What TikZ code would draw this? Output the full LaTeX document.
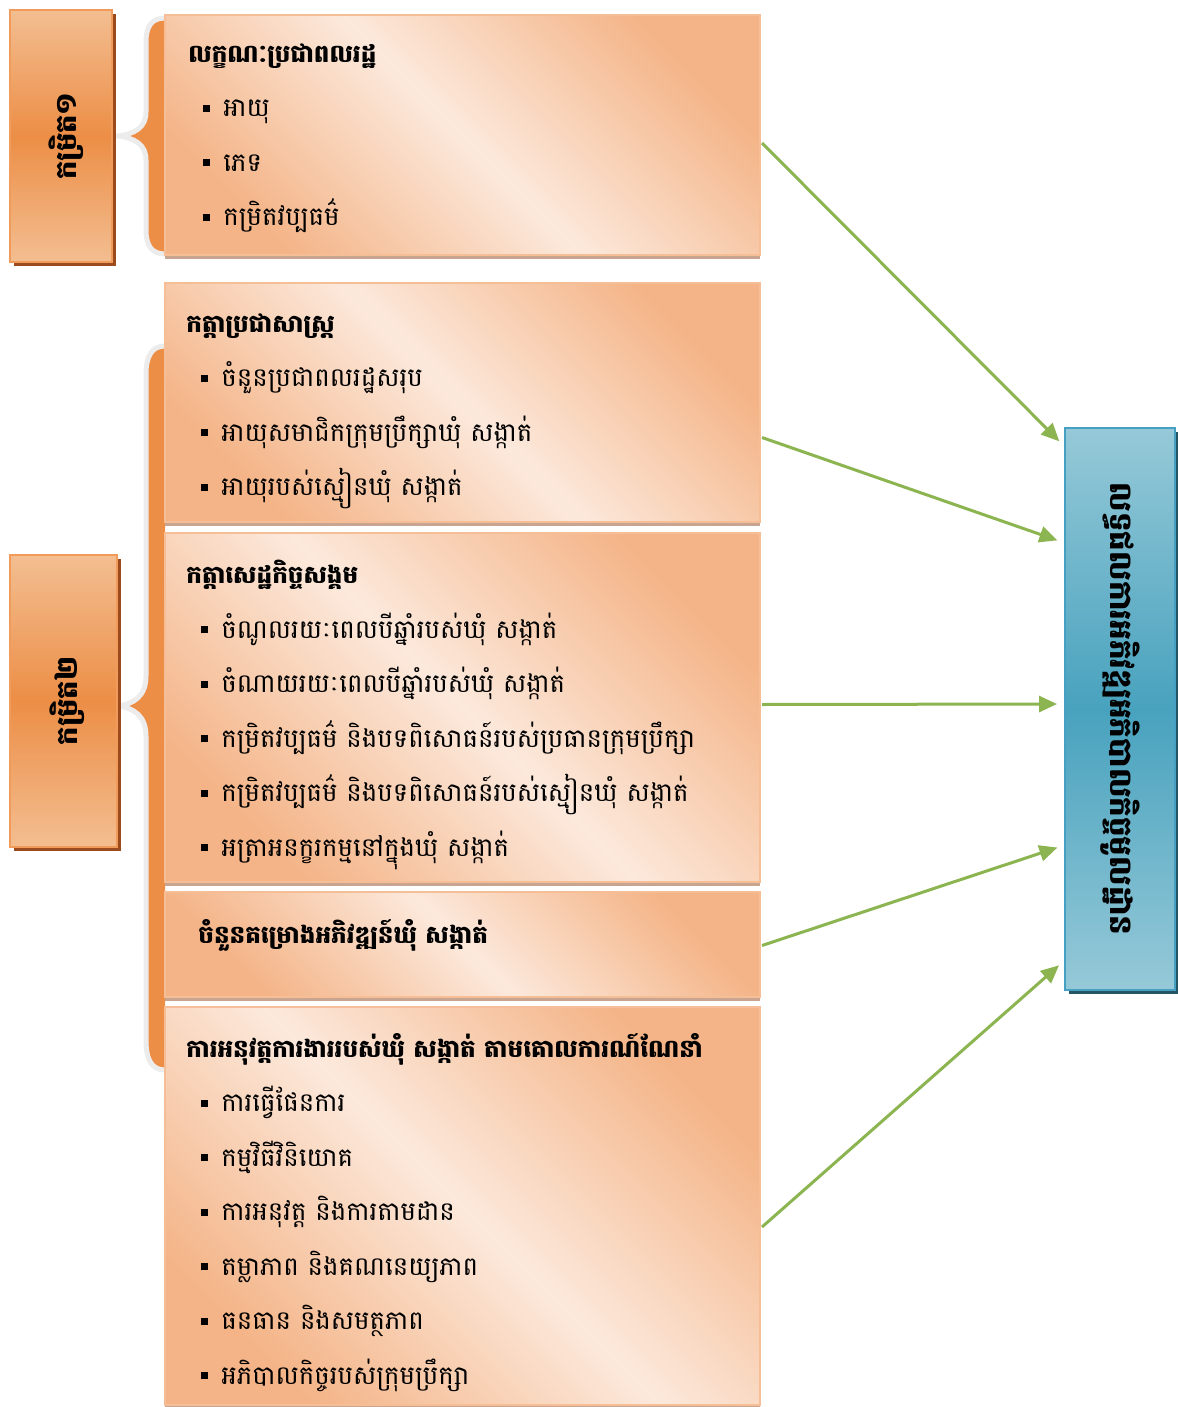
\documentclass[tikz,border=0pt]{standalone}
\usepackage{fontspec}
\newfontfamily\khmer[Script=Khmer]{Battambang}
\usepackage{tikz}
\usetikzlibrary{arrows.meta,shadows,calc}

\definecolor{peachD}{RGB}{244,180,135}
\definecolor{peachL}{RGB}{252,233,220}
\definecolor{peachE}{RGB}{245,190,150}
\definecolor{shadowP}{RGB}{200,165,145}
\definecolor{lvlD}{RGB}{236,142,70}
\definecolor{lvlL}{RGB}{243,190,145}
\definecolor{lvlE}{RGB}{240,155,90}
\definecolor{lvlS}{RGB}{155,75,30}
\definecolor{outD}{RGB}{72,162,190}
\definecolor{outL}{RGB}{150,201,216}
\definecolor{outE}{RGB}{70,160,195}
\definecolor{outS}{RGB}{35,85,100}
\definecolor{arrowG}{RGB}{140,180,80}
\definecolor{braceO}{RGB}{236,142,70}
\definecolor{braceW}{RGB}{236,236,236}

\begin{document}
\begin{tikzpicture}[x=0.5pt,y=-0.5pt,>={Triangle[length=9pt,width=8pt]},
  sz/.style 2 args={minimum width=#1*0.5pt,minimum height=#2*0.5pt},
  cbox/.style={draw=peachE,line width=0.6pt,top color=peachD,bottom color=peachD,
    middle color=peachL,shading angle=-45,inner sep=0pt,outer sep=0pt,
    drop shadow={shadow xshift=0pt,shadow yshift=-2pt,fill=shadowP,opacity=1}},
  lbox/.style={draw=lvlE,line width=0.8pt,top color=lvlL,bottom color=lvlL,
    middle color=lvlD,inner sep=0pt,outer sep=0pt,
    drop shadow={shadow xshift=2pt,shadow yshift=-2pt,fill=lvlS,opacity=1}},
  obox/.style={draw=outE,line width=1pt,top color=outL,bottom color=outL,
    middle color=outD,inner sep=0pt,outer sep=0pt,
    drop shadow={shadow xshift=2pt,shadow yshift=-2pt,fill=outS,opacity=1}},
  txt/.style={anchor=north west,inner sep=0pt,align=left,
    font=\khmer\fontsize{13}{27.25}\selectfont},
  vtxt/.style={inner sep=0pt,font=\khmer\bfseries\fontsize{14.5}{16}\selectfont},
  conn/.style={->,draw=arrowG,line width=1.5pt,shorten >=4pt},
  brc/.style={draw=braceW,line width=2.5pt}]
  \def\itm{\hspace*{7.5pt}\rule[2.5pt]{3.5pt}{3.5pt}\hspace{6.5pt}}
  \def\hd#1{{\bfseries\fontsize{12.3}{27.25}\selectfont #1}}

  \useasboundingbox (0,0) rectangle (1177,1407);

  % ================= braces =================
  \fill[braceO] (165,18) .. controls (152,18) and (146,26) .. (146,42) -- (146,112)
    .. controls (146,128) and (134,134) .. (118,136) .. controls (134,138) and (146,144) .. (146,160)
    -- (146,230) .. controls (146,246) and (152,254) .. (165,254) -- cycle;
  \draw[brc] (165,18) .. controls (152,18) and (146,26) .. (146,42) -- (146,112)
    .. controls (146,128) and (134,134) .. (118,136) .. controls (134,138) and (146,144) .. (146,160)
    -- (146,230) .. controls (146,246) and (152,254) .. (165,254);
  \fill[braceO] (165,346) .. controls (152,346) and (146,356) .. (146,374) -- (146,676)
    .. controls (146,696) and (134,704) .. (118,706) .. controls (134,708) and (146,716) .. (146,736)
    -- (146,1040) .. controls (146,1060) and (152,1070) .. (165,1070) -- cycle;
  \draw[brc] (165,346) .. controls (152,346) and (146,356) .. (146,374) -- (146,676)
    .. controls (146,696) and (134,704) .. (118,706) .. controls (134,708) and (146,716) .. (146,736)
    -- (146,1040) .. controls (146,1060) and (152,1070) .. (165,1070);

  % ================= levels =================
  \node[lbox,sz={102}{252}] (lvA) at (61,136) {};
  \node[vtxt,rotate=90] (lvAt) at ($(lvA)+(5,0)$) {កម្រិត១};
  \node[lbox,sz={107}{292}] (lvB) at (63.5,701) {};
  \node[vtxt,rotate=90] (lvBt) at ($(lvB)+(4,0)$) {កម្រិត២};

  % ================= factor boxes =================
  \node[cbox,sz={595}{240}] (b1) at (462.5,135) {};
  \node[cbox,sz={595}{239}] (b2) at (462.5,402.5) {};
  \node[cbox,sz={595}{349}] (b3) at (462.5,707.5) {};
  \node[cbox,sz={595}{105}] (b4) at (462.5,944.5) {};
  \node[cbox,sz={595}{398}] (b5) at (462.5,1206) {};

  \node[txt] (t1) at (188,43) {\hd{លក្ខណៈប្រជាពលរដ្ឋ}\\
    \itm អាយុ\\ \itm ភេទ\\ \itm កម្រិតវប្បធម៌};
  \node[txt] (t2) at (186,313) {\hd{កត្តាប្រជាសាស្ត្រ}\\
    \itm ចំនួនប្រជាពលរដ្ឋសរុប\\
    \itm អាយុសមាជិកក្រុមប្រឹក្សាឃុំ សង្កាត់\\
    \itm អាយុរបស់ស្មៀនឃុំ សង្កាត់};
  \node[txt] (t3) at (186,560) {\hd{កត្តាសេដ្ឋកិច្ចសង្គម}\\
    \itm ចំណូលរយៈពេលបីឆ្នាំរបស់ឃុំ សង្កាត់\\
    \itm ចំណាយរយៈពេលបីឆ្នាំរបស់ឃុំ សង្កាត់\\
    \itm កម្រិតវប្បធម៌ និងបទពិសោធន៍របស់ប្រធានក្រុមប្រឹក្សា\\
    \itm កម្រិតវប្បធម៌ និងបទពិសោធន៍របស់ស្មៀនឃុំ សង្កាត់\\
    \itm អត្រាអនក្ខរកម្មនៅក្នុងឃុំ សង្កាត់};
  \node[txt] (t4) at (198,919) {\hd{ចំនួនគម្រោងអភិវឌ្ឍន៍ឃុំ សង្កាត់}};
  \node[txt] (t5) at (186,1033) {\hd{ការអនុវត្តការងាររបស់ឃុំ សង្កាត់ តាមគោលការណ៍ណែនាំ}\\
    \itm ការធ្វើផែនការ\\ \itm កម្មវិធីវិនិយោគ\\
    \itm ការអនុវត្ត និងការតាមដាន\\ \itm តម្លាភាព និងគណនេយ្យភាព\\
    \itm ធនធាន និងសមត្ថភាព\\ \itm អភិបាលកិច្ចរបស់ក្រុមប្រឹក្សា};

  % ================= outcome =================
  \node[obox,sz={110}{562}] (out) at (1120,709) {};
  \node[vtxt,rotate=-90,font=\khmer\bfseries\fontsize{15.5}{18}\selectfont] (outt) at (out)
    {លទ្ធផលការអភិវឌ្ឍអភិបាលកិច្ចមូលដ្ឋាន};

  \draw[conn] ($(b1.east)+(2,8)$) -- ($(out.west)+(0,-262)$);
  \draw[conn] ($(b2.east)+(2,35)$) -- ($(out.west)+(0,-166)$);
  \draw[conn] ($(b3.east)+(2,-3)$) -- ($(out.west)+(0,-5)$);
  \draw[conn] ($(b4.east)+(2,1)$) -- ($(out.west)+(0,136)$);
  \draw[conn] ($(b5.east)+(2,21)$) -- ($(out.west)+(0,251)$);
\end{tikzpicture}
\end{document}
